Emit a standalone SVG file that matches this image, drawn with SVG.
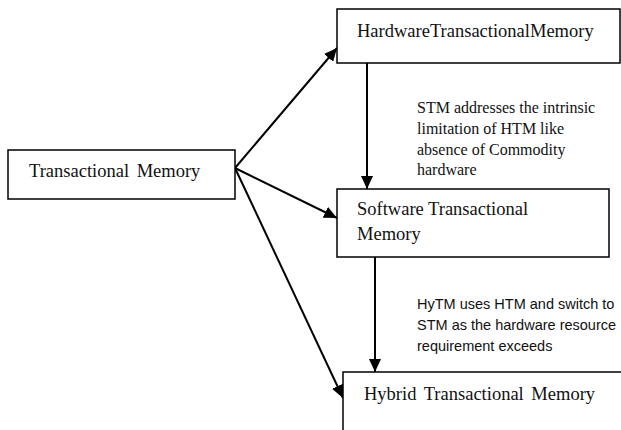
<svg xmlns="http://www.w3.org/2000/svg" width="621" height="430" viewBox="0 0 621 430">
  <style>
    .box { fill: #ffffff; stroke: #000000; stroke-width: 1.5; }
    .label { font-family: "Liberation Serif", "Times New Roman", serif; font-size: 18.5px; fill: #111111; }
    .note { font-family: "Liberation Serif", "Times New Roman", serif; font-size: 16px; fill: #111111; }
    .note-sans { font-family: "Liberation Sans", Arial, sans-serif; font-size: 14.5px; fill: #111111; }
    .edge { stroke: #000000; stroke-width: 2; fill: none; marker-end: url(#arrow); }
  </style>
  <defs>
    <marker id="arrow" markerUnits="userSpaceOnUse" markerWidth="14" markerHeight="12" refX="13" refY="6" orient="auto">
      <path d="M0,0 L13,6 L0,12 Z" fill="#000000"/>
    </marker>
  </defs>

  <rect width="621" height="430" fill="#ffffff"/>

  <g id="connectors">
    <line class="edge" x1="235" y1="168" x2="337" y2="48"/>
    <line class="edge" x1="235" y1="168" x2="337" y2="218"/>
    <line class="edge" x1="235" y1="168" x2="343" y2="398"/>
    <line class="edge" x1="367" y1="63" x2="367" y2="189"/>
    <line class="edge" x1="375" y1="257" x2="375" y2="372"/>
  </g>

  <g id="node-tm">
    <rect class="box" x="8" y="150" width="227" height="49"/>
    <text class="label" x="29" y="177" word-spacing="3">Transactional Memory</text>
  </g>

  <g id="node-htm">
    <rect class="box" x="337" y="9" width="283" height="54"/>
    <text class="label" x="357" y="37">HardwareTransactionalMemory</text>
  </g>

  <g id="node-stm">
    <rect class="box" x="337" y="189" width="272" height="68"/>
    <text class="label" x="357" y="215">Software Transactional</text>
    <text class="label" x="357" y="240">Memory</text>
  </g>

  <g id="node-hytm">
    <rect class="box" x="343" y="372" width="290" height="70"/>
    <text class="label" x="364" y="400" word-spacing="3">Hybrid Transactional Memory</text>
  </g>

  <g id="note-stm">
    <text class="note" x="417" y="113">STM addresses the intrinsic</text>
    <text class="note" x="417" y="134">limitation of HTM like</text>
    <text class="note" x="417" y="155">absence of Commodity</text>
    <text class="note" x="417" y="175">hardware</text>
  </g>

  <g id="note-hytm">
    <text class="note-sans" x="417" y="309">HyTM uses HTM and switch to</text>
    <text class="note-sans" x="417" y="330">STM as the hardware resource</text>
    <text class="note-sans" x="417" y="351">requirement exceeds</text>
  </g>
</svg>
